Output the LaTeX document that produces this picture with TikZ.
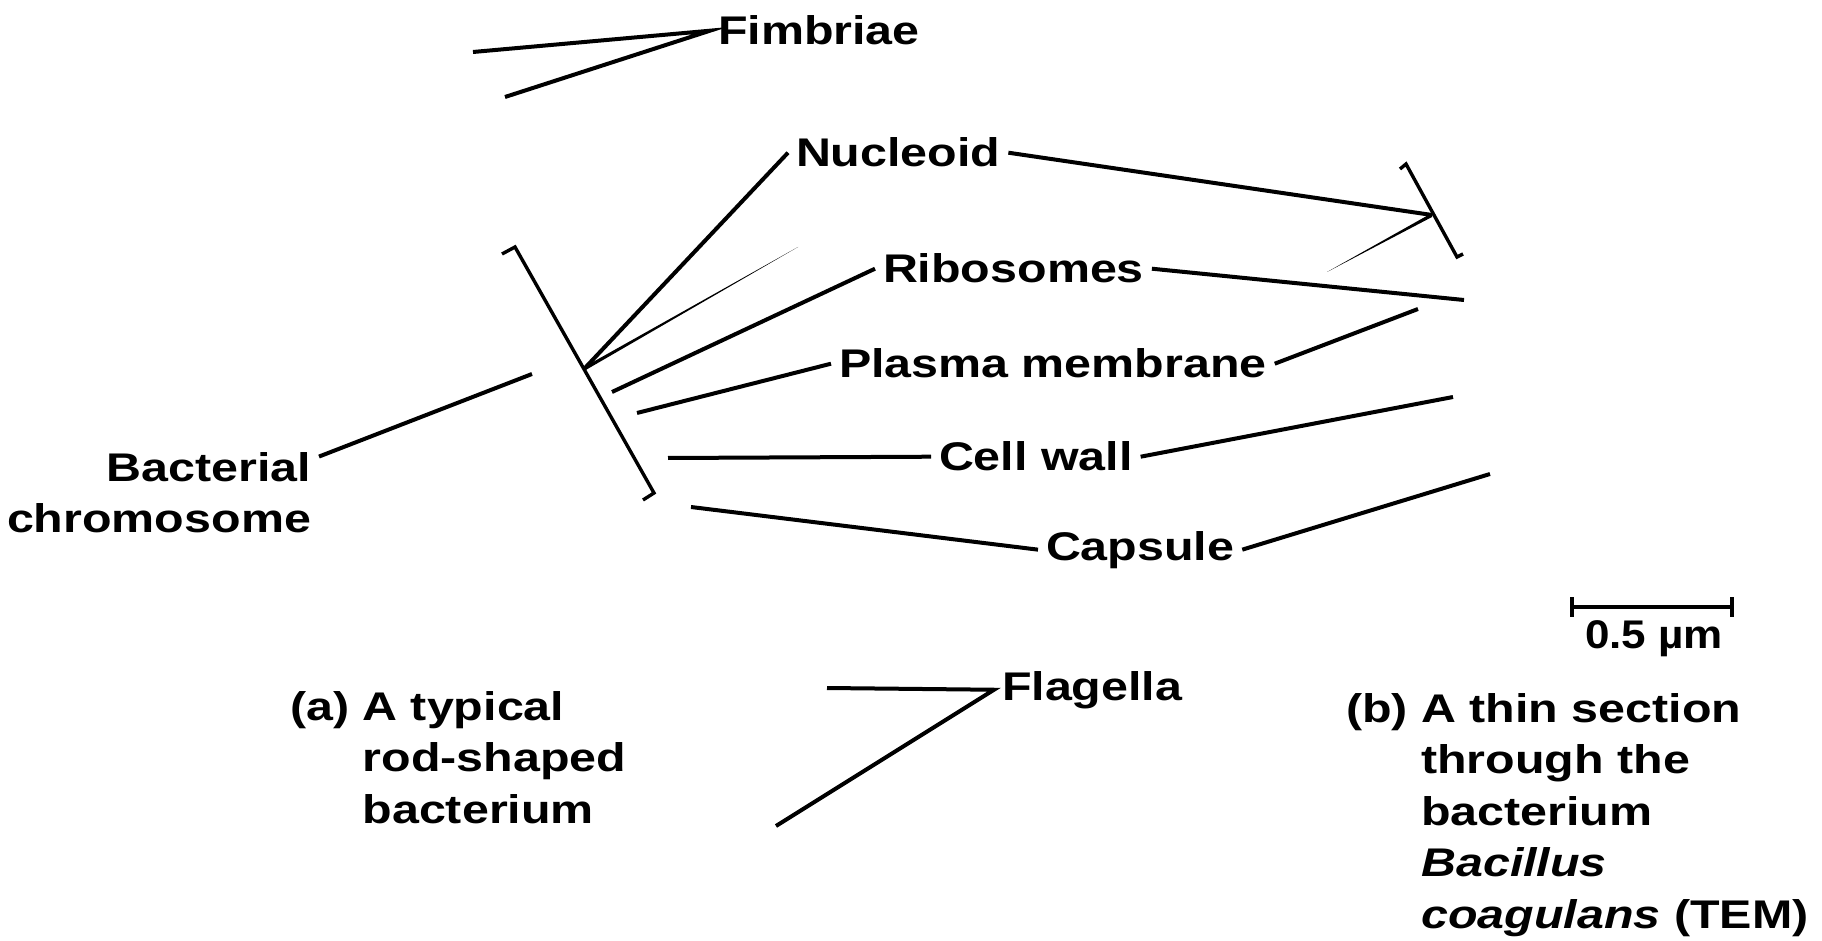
\documentclass[tikz,border=0pt]{standalone}
\usepackage{fontspec}
\usepackage{tikz}
\usetikzlibrary{calc}
\newfontfamily\lblfont{Liberation Sans}[FakeStretch=1.21]
\newfontfamily\barfont{Liberation Sans}[FakeStretch=1.1]
\newcommand\lblsize{\fontsize{20}{25.75}\selectfont}
\tikzset{
  tag/.style={
    font=\lblfont\bfseries\lblsize,
    inner sep=0pt,
    outer sep=4pt,
    anchor=base west
  },
  lead/.style={
    line width=2pt
  },
  brack/.style={
    line width=1.7pt,
    line join=miter
  },
  scalebar/.style={
    line width=2pt
  }
}

\begin{document}
\begin{tikzpicture}[x=0.5pt, y=-0.5pt]
  \useasboundingbox (0,0) rectangle (1822,941);

  % labels
  \node[tag] (fimb) at (710,45) {Fimbriae};
  \node[tag] (nucl) at (788,167) {Nucleoid};
  \node[tag] (ribo) at (875,283) {Ribosomes};
  \node[tag] (plas) at (831,378) {Plasma membrane};
  \node[tag] (cell) at (931,471) {Cell wall};
  \node[tag] (caps) at (1038,560) {Capsule};
  \node[tag] (flag) at (994,700) {Flagella};
  \node[tag, anchor=base east] (bact) at (319,481)
    {\begin{tabular}[t]{@{}r@{}}Bacterial\\chromosome\end{tabular}};
  \node[tag] (capa) at (282,720)
    {\begin{tabular}[t]{@{}l@{ }l@{}}(a)&A typical\\&rod-shaped\\&bacterium\end{tabular}};
  \node[tag] (capb) at (1338,722)
    {\begin{tabular}[t]{@{}l@{ }l@{}}(b)&A thin section\\&through the\\&bacterium\\
      &\itshape Bacillus\\&\textit{coagulans} (TEM)\end{tabular}};
  \node[font=\barfont\bfseries\lblsize, inner sep=0pt, anchor=base] (bartxt) at (1654,648) {0.5 µm};

  % free ends
  \coordinate (f1) at (473,52);
  \coordinate (f2) at (505,97);
  \coordinate (jl) at (584,369);
  \coordinate (wl) at (798,247);
  \coordinate (jr) at (1432,215);
  \coordinate (wr) at (1327,272);
  \coordinate (r1) at (612,392);
  \coordinate (r2) at (1464,300);
  \coordinate (p1) at (637,413);
  \coordinate (p2) at (1418,309);
  \coordinate (c1) at (668,458);
  \coordinate (c2) at (1453,397);
  \coordinate (k1) at (691,507);
  \coordinate (k2) at (1490,474);
  \coordinate (b1) at (532,374);
  \coordinate (g1) at (827,688);
  \coordinate (g2) at (776,826);

  % brackets
  \coordinate (lt0) at (502,254);
  \coordinate (lt) at (515,247);
  \coordinate (lb) at (654,493);
  \coordinate (lb0) at (643,500);
  \coordinate (rt0) at (1400,169);
  \coordinate (rt) at (1406,164);
  \coordinate (rb) at (1457,257);
  \coordinate (rb0) at (1463,254);
  \draw[brack] (lt0) -- (lt) -- (lb) -- (lb0);
  \draw[brack] (rt0) -- (rt) -- (rb) -- (rb0);

  % leaders
  \draw[lead] (f1) -- (fimb.west) -- (f2);
  \draw[lead] (jl) -- (nucl.west);
  \draw[lead] (nucl.east) -- (jr);
  \fill ($(jl)+(0,-2)$) -- (wl) -- ($(jl)+(0,2)$) -- cycle;
  \fill ($(jr)+(0,-2)$) -- (wr) -- ($(jr)+(0,2)$) -- cycle;
  \draw[lead] (r1) -- (ribo.west);
  \draw[lead] (ribo.east) -- (r2);
  \draw[lead] (p1) -- (plas.west);
  \draw[lead] (plas.east) -- (p2);
  \draw[lead] (c1) -- (cell.west);
  \draw[lead] (cell.east) -- (c2);
  \draw[lead] (k1) -- (caps.west);
  \draw[lead] (caps.east) -- (k2);
  \draw[lead] (bact.14) -- (b1);
  \draw[lead] (g1) -- (flag.west) -- (g2);

  % scale bar
  \coordinate (s1) at (1572,607);
  \coordinate (s2) at (1732,607);
  \draw[scalebar] (s1) -- (s2);
  \draw[scalebar] ($(s1)+(0,-10)$) -- ($(s1)+(0,10)$);
  \draw[scalebar] ($(s2)+(0,-10)$) -- ($(s2)+(0,10)$);
\end{tikzpicture}
\end{document}
